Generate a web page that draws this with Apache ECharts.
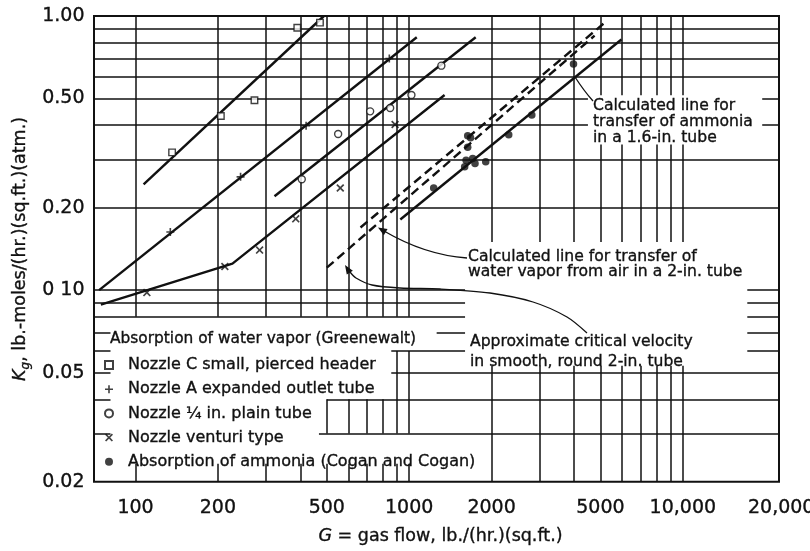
<!DOCTYPE html>
<html><head><meta charset="utf-8">
<script src="https://cdn.jsdelivr.net/npm/echarts@6/dist/echarts.min.js"></script>
<style>html,body{margin:0;padding:0;background:#fff}#c{width:810px;height:551px}</style>
</head><body><div id="c"></div>
<script>
// ---- tick labels ----
const xTickValues = [100, 200, 500, 1000, 2000, 5000, 10000, 20000];
const xTickLabels = ['100', '200', '500', '1000', '2000', '5000', '10,000', '20,000'];
const yTickValues = [1.0, 0.5, 0.2, 0.1, 0.05, 0.02];
const yTickLabels = ['1.00', '0.50', '0.20', '0 10', '0.05', '0.02'];
// ---- log grid values ----
const xGridValues = [100, 200, 300, 400, 500, 600, 700, 800, 900, 1000, 2000, 3000, 4000, 5000, 6000, 7000, 8000, 9000, 10000];
const yGridValues = [0.03, 0.04, 0.05, 0.06, 0.07, 0.08, 0.09, 0.1, 0.2, 0.3, 0.4, 0.5, 0.6, 0.7, 0.8, 0.9];

// ---- Absorption of water vapor (Greenewalt): points ----
const nozzleCPoints = [[136, 0.318], [205, 0.432], [272, 0.493], [390, 0.906], [472, 0.946]];
const nozzleAPoints = [[134, 0.163], [242, 0.259], [420, 0.398], [846, 0.700]];
const nozzleQuarterPoints = [[405, 0.254], [550, 0.371], [720, 0.449], [852, 0.462], [1019, 0.515], [1311, 0.659]];
const venturiPoints = [[110, 0.098], [212, 0.122], [284, 0.140], [385, 0.182], [560, 0.236], [888, 0.402]];
// ---- Absorption of ammonia (Cogan and Cogan) ----
const ammoniaPoints = [[1229, 0.236], [1636, 0.366], [1676, 0.360], [1636, 0.332], [1614, 0.298], [1706, 0.302],
  [1595, 0.282], [1740, 0.290], [1904, 0.294], [2311, 0.369], [2806, 0.435], [3985, 0.668]];

// ---- correlation lines ----
const nozzleCLine = [[107, 0.243], [488, 1.0]];
const nozzleALine = [[73.6, 0.100], [1066, 0.837]];
const nozzleQuarterLine = [[322, 0.220], [1750, 0.837]];
const venturiLine = [[74.7, 0.0885], [226, 0.125], [1347, 0.515]];
const ammoniaCalcLine = [[928, 0.181], [5964, 0.821]];
const criticalDashedLine = [[500, 0.1208], [4759, 0.848]];
const waterVaporDashedLine = [[664, 0.1693], [5174, 0.944]];

const XMIN = 70.5, XMAX = 22460, YMIN = 0.02, YMAX = 1.0;
const INK = '#111';
const F = '"DejaVu Sans", sans-serif';
const FS = 15.6;

function hExtents(y) {
  if ([0.9, 0.8, 0.7, 0.6, 0.3, 0.2].includes(y)) return [[XMIN, XMAX]];
  if (y === 0.5 || y === 0.4) return [[XMIN, 4500], [19500, XMAX]];
  if (y >= 0.08 && y <= 0.1) return [[XMIN, 1600], [17200, XMAX]];
  if (y === 0.07) return [[XMIN, 81], [1260, 1600], [17200, XMAX]];
  if (y === 0.06) return [[XMIN, 81], [860, 1600], [17200, XMAX]];
  if (y === 0.05) return [[XMIN, 81], [860, XMAX]];
  if (y === 0.04) return [[XMIN, 81], [500, XMAX]];
  return [[XMIN, 81], [468, XMAX]];
}
function vExtents(x) {
  const foot = [YMIN, 0.0233];
  if (x <= 400) return [[0.08, YMAX], foot];
  if (x <= 800) return [[0.08, YMAX], [0.03, 0.04], foot];
  if (x <= 1000) return [[0.08, YMAX], [0.03, 0.06], foot];
  if (x <= 4000) return [[0.15, YMAX], [YMIN, 0.053]];
  return [[0.514, YMAX], [0.15, 0.34], [YMIN, 0.053]];
}
const gridSegs = [];
yGridValues.forEach(y => hExtents(y).forEach(e => gridSegs.push({ coords: [[e[0], y], [e[1], y]] })));
xGridValues.forEach(x => vExtents(x).forEach(e => gridSegs.push({ coords: [[x, e[0]], [x, e[1]]] })));

const SQUARE = 'path://M0,0H10V10H0Z';
const PLUS = 'path://M4,0H6V4H10V6H6V10H4V6H0V4H4Z';
const CROSS = 'path://M1.5,0L5,3.5L8.5,0L10,1.5L6.5,5L10,8.5L8.5,10L5,6.5L1.5,10L0,8.5L3.5,5L0,1.5Z';

function lineSeries(name, data, dashed) {
  return { type: 'line', name, data, symbol: 'none', silent: true, z: 3, animation: false,
    lineStyle: { color: INK, width: 2.4, type: dashed ? [9, 5] : 'solid' } };
}
const txt = { color: INK, fontFamily: F, textBorderColor: INK, textBorderWidth: 0.35 };

const chart = echarts.init(document.getElementById('c'), null, { renderer: 'canvas' });
const option = {
  animation: false,
  backgroundColor: '#fff',
  grid: { left: 88, right: 31, top: 16, bottom: 61, show: true, borderColor: INK, borderWidth: 2, backgroundColor: 'transparent' },
  xAxis: { type: 'log', logBase: 10, min: XMIN, max: XMAX,
    axisLine: { show: false }, axisTick: { show: false }, axisLabel: { show: false }, splitLine: { show: false },
    name: '{i|G} = gas flow, lb./(hr.)(sq.ft.)', nameLocation: 'middle', nameGap: 46,
    nameTextStyle: Object.assign({ fontSize: 17.5, padding: [0, 0, 0, 8],
      rich: { i: Object.assign({ fontStyle: 'italic', fontSize: 17.5 }, txt) } }, txt) },
  yAxis: { type: 'log', logBase: 10, min: YMIN, max: YMAX,
    axisLine: { show: false }, axisTick: { show: false }, axisLabel: { show: false }, splitLine: { show: false },
    name: '{i|K}{s|g}, lb.-moles/(hr.)(sq.ft.)(atm.)', nameLocation: 'middle', nameGap: 62,
    nameTextStyle: Object.assign({ fontSize: 17.5, lineHeight: 24,
      rich: { i: Object.assign({ fontStyle: 'italic', fontSize: 17.5, lineHeight: 24 }, txt),
              s: Object.assign({ fontStyle: 'italic', fontSize: 12, lineHeight: 24, verticalAlign: 'bottom' }, txt) } }, txt) },
  legend: { orient: 'vertical', left: 104, top: 356, padding: 0, itemWidth: 28, itemHeight: 8, itemGap: 6.2, selectedMode: false,
    textStyle: Object.assign({ fontSize: 16, lineHeight: 18 }, txt),
    data: ['Nozzle C small, pierced header', 'Nozzle A expanded outlet tube', 'Nozzle \u00bc in. plain tube',
      'Nozzle venturi type', 'Absorption of ammonia (Cogan and Cogan)'] },
  series: [
    { type: 'lines', coordinateSystem: 'cartesian2d', name: 'grid', data: gridSegs, silent: true, z: 1,
      lineStyle: { color: INK, width: 1.5, opacity: 1 }, effect: { show: false } },
    lineSeries('Greenewalt Nozzle C line', nozzleCLine),
    lineSeries('Greenewalt Nozzle A line', nozzleALine),
    lineSeries('Greenewalt Nozzle 1/4 in. line', nozzleQuarterLine),
    lineSeries('Greenewalt venturi line', venturiLine),
    lineSeries('Calculated line for transfer of ammonia in a 1.6-in. tube', ammoniaCalcLine),
    lineSeries('Calculated line for transfer of water vapor from air in a 2-in. tube', criticalDashedLine, true),
    lineSeries('Calculated line (2-in. tube, upper)', waterVaporDashedLine, true),
    { type: 'scatter', name: 'Nozzle C small, pierced header', data: nozzleCPoints, symbol: SQUARE, symbolSize: 6.5, z: 4,
      itemStyle: { color: '#fff', borderColor: INK, borderWidth: 1.4 } },
    { type: 'scatter', name: 'Nozzle A expanded outlet tube', data: nozzleAPoints, symbol: PLUS, symbolSize: 8, z: 4,
      itemStyle: { color: INK } },
    { type: 'scatter', name: 'Nozzle \u00bc in. plain tube', data: nozzleQuarterPoints, symbol: 'circle', symbolSize: 7, z: 4,
      itemStyle: { color: '#fff', borderColor: INK, borderWidth: 1.4 } },
    { type: 'scatter', name: 'Nozzle venturi type', data: venturiPoints, symbol: CROSS, symbolSize: 8, z: 4,
      itemStyle: { color: INK } },
    { type: 'scatter', name: 'Absorption of ammonia (Cogan and Cogan)', data: ammoniaPoints, symbol: 'circle', symbolSize: 7.5, z: 4,
      itemStyle: { color: INK } },
    { type: 'scatter', name: 'x ticks', clip: false, silent: true, z: 6, symbolSize: 1,
      data: xTickValues.map(v => ({ value: [v, YMIN], label: v === 20000 ? { offset: [16, 0] } : undefined })),
      itemStyle: { color: 'rgba(255,255,255,0)', opacity: 1 },
      label: Object.assign({ show: true, position: 'bottom', distance: 16, fontSize: 19, opacity: 1,
        formatter: p => xTickLabels[p.dataIndex] }, txt) },
    { type: 'scatter', name: 'y ticks', clip: false, silent: true, z: 6, symbolSize: 1,
      data: yTickValues.map(v => [XMIN, v]),
      itemStyle: { color: 'rgba(255,255,255,0)', opacity: 1 },
      label: Object.assign({ show: true, position: 'left', distance: 9, fontSize: 19, opacity: 1,
        formatter: p => yTickLabels[p.dataIndex] }, txt) }
  ]
};
chart.setOption(option);

// ---- annotations ----
function arrowHead(tx, ty, fx, fy) {
  const a = Math.atan2(ty - fy, tx - fx), L = 9, W = 3.6;
  const bx = tx - L * Math.cos(a), by = ty - L * Math.sin(a);
  const nx = -Math.sin(a) * W, ny = Math.cos(a) * W;
  return { type: 'polygon', z: 10, shape: { points: [[tx, ty], [bx + nx, by + ny], [bx - nx, by - ny]] }, style: { fill: INK } };
}
const textStyle = (t, lh, fs) => ({ text: t, fontSize: fs || FS, fontFamily: F, fill: INK, stroke: INK, lineWidth: 0.35,
  lineHeight: lh, verticalAlign: 'top', align: 'left' });
const g = [
  { type: 'text', x: 110, y: 330, z: 10, style: textStyle('Absorption of water vapor (Greenewalt)', 18, 15.4) },
  { type: 'text', x: 593, y: 98.5, z: 10, style: textStyle('Calculated line for\ntransfer of ammonia\nin a 1.6-in. tube', 15.7) },
  { type: 'text', x: 468, y: 249.5, z: 10, style: textStyle('Calculated line for transfer of\nwater vapor from air in a 2-in. tube', 15) },
  { type: 'text', x: 470, y: 332, z: 10, style: textStyle('Approximate critical velocity\nin smooth, round 2-in. tube', 20) },
  { type: 'bezierCurve', z: 10, shape: { x1: 593, y1: 101, x2: 575, y2: 77, cpx1: 584, cpy1: 91 },
    style: { stroke: INK, lineWidth: 1.3, fill: null } },
  { type: 'bezierCurve', z: 10, shape: { x1: 467, y1: 258, x2: 384, y2: 231, cpx1: 425, cpy1: 255 },
    style: { stroke: INK, lineWidth: 1.3, fill: null } },
  arrowHead(378, 227.5, 392, 236),
  { type: 'polyline', z: 10, shape: { points: [[587, 333], [567, 317], [533, 302], [490, 293], [440, 289], [400, 288], [372, 285], [356, 278], [350, 272]], smooth: 0.3 },
    style: { stroke: INK, lineWidth: 1.3, fill: null } },
  arrowHead(345, 265, 352, 276)
];
chart.setOption({ graphic: g });
</script></body></html>
